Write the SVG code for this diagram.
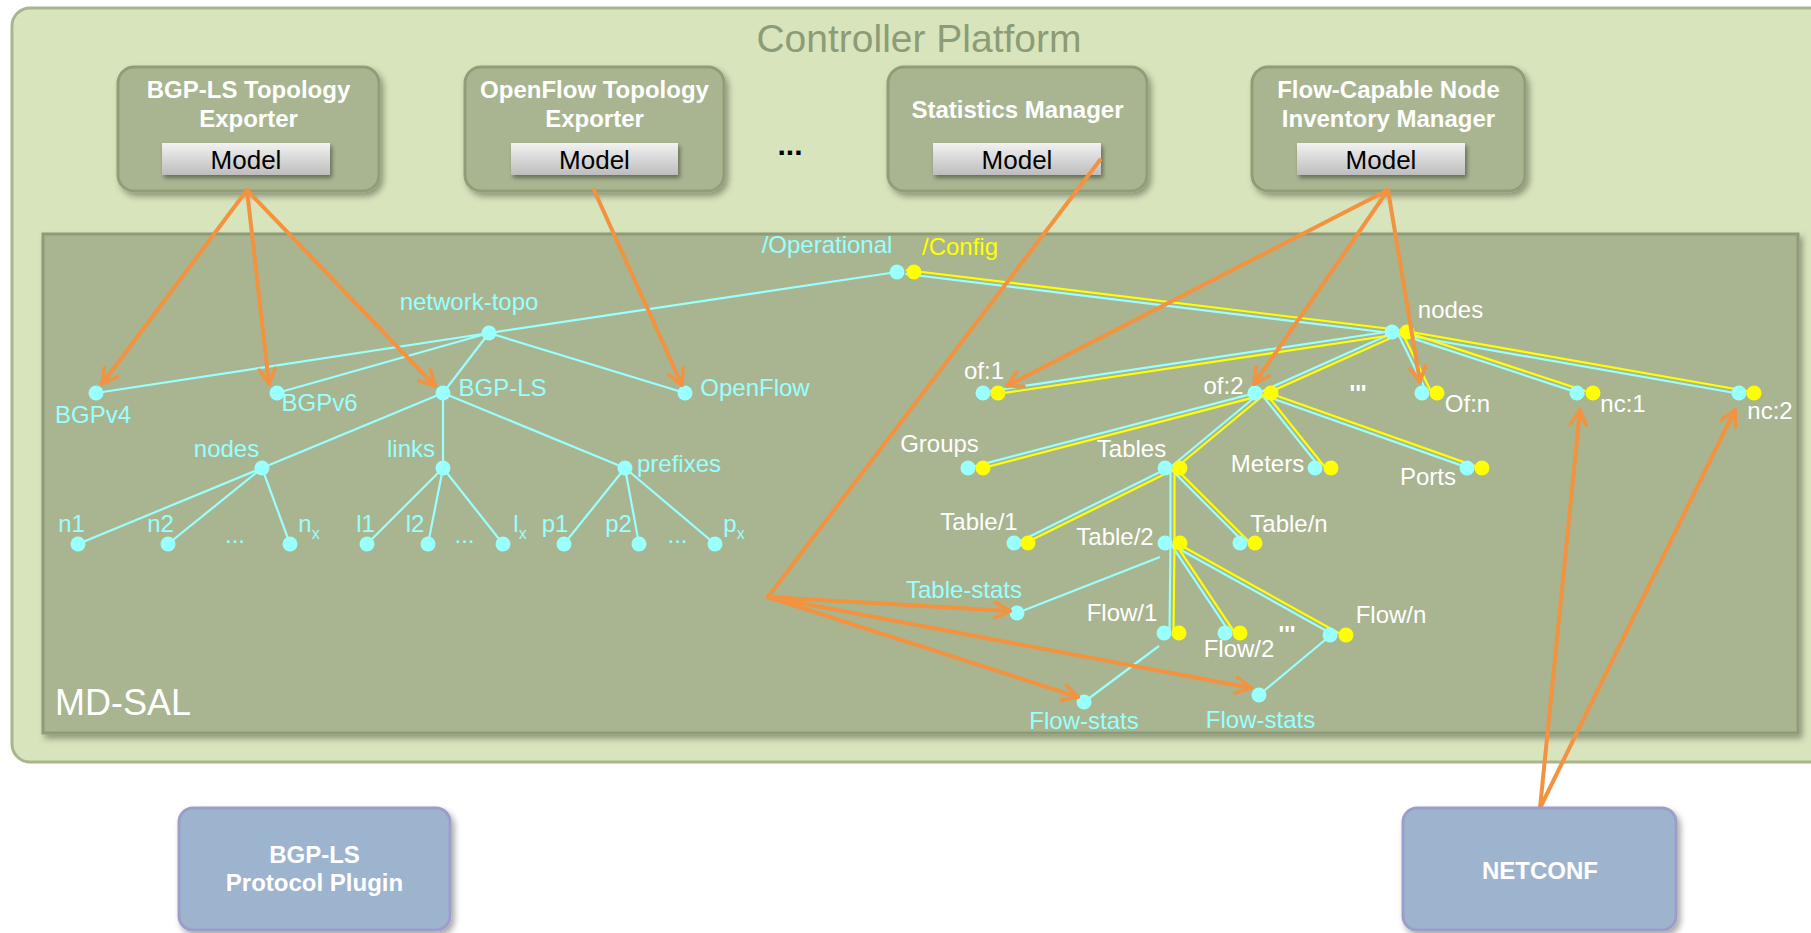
<svg xmlns="http://www.w3.org/2000/svg" width="1811" height="933" viewBox="0 0 1811 933">
<defs>
<style>
.f{font-family:"Liberation Sans",Arial,sans-serif}
.box{fill:#a9b590;stroke:#909e78;stroke-width:3;filter:url(#sh)}
.ttl{font-family:"Liberation Sans",Arial,sans-serif;font-weight:bold;font-size:24px;fill:#fff;text-anchor:middle}
.mdl{fill:url(#gm);filter:url(#sh2)}
.mt{font-family:"Liberation Sans",Arial,sans-serif;font-size:26px;fill:#000;text-anchor:middle}
.c{fill:#99ffff}
.y{fill:#ffff00}
.lc{stroke:#99ffff;stroke-width:2.2;fill:none}
.ly{stroke:#ffff00;stroke-width:2.2;fill:none}
.lbl{font-family:"Liberation Sans",Arial,sans-serif;font-size:24px;text-anchor:middle}
.tc{fill:#99ffff}
.tw{fill:#ffffff}
.ty{fill:#ffff00}
.ar{stroke:#f3923f;stroke-width:4;fill:none;stroke-linecap:round}
.ah{marker-end:url(#ah)}
.blue{fill:#9db4cf;stroke:#9a9ec9;stroke-width:3;filter:url(#sh)}
</style>
<filter id="sh" x="-10%" y="-10%" width="130%" height="140%">
<feDropShadow dx="3" dy="4" stdDeviation="3" flood-color="#000" flood-opacity="0.35"/>
</filter>
<filter id="sh2" x="-10%" y="-20%" width="130%" height="160%">
<feDropShadow dx="2" dy="3" stdDeviation="2" flood-color="#000" flood-opacity="0.4"/>
</filter>
<linearGradient id="gm" x1="0" y1="0" x2="0" y2="1">
<stop offset="0" stop-color="#f2f2f2"/>
<stop offset="1" stop-color="#bdbdbd"/>
</linearGradient>
<marker id="ah" viewBox="0 0 20 20" refX="18" refY="10" markerWidth="5" markerHeight="5" orient="auto" markerUnits="strokeWidth">
<path d="M3,2 L18,10 L3,18" fill="none" stroke="#f3923f" stroke-width="3.5" stroke-linecap="round" stroke-linejoin="round"/>
</marker>
</defs>

<g id="controller-platform">
<rect x="12" y="8" width="1830" height="754" rx="18" fill="#d8e4bc" stroke="#a7b68e" stroke-width="3"/>
<text class="f" x="919" y="52" font-size="39" fill="#8c9c76" text-anchor="middle">Controller Platform</text>
</g>

<g id="md-sal">
<rect x="43" y="234" width="1755" height="499" fill="#a9b590" stroke="#8e9b78" stroke-width="3" filter="url(#sh)"/>
<text class="f" x="55" y="715" font-size="36" fill="#ffffff">MD-SAL</text>
</g>

<g id="bgpls-exporter">
<rect class="box" x="118" y="67" width="261" height="124" rx="16"/>
<text class="ttl" x="248.5" y="98">BGP-LS Topology</text>
<text class="ttl" x="248.5" y="127">Exporter</text>
<rect class="mdl" x="162" y="143" width="168" height="32"/>
<text class="mt" x="246" y="169">Model</text>
</g>

<g id="openflow-exporter">
<rect class="box" x="465" y="67" width="259" height="124" rx="16"/>
<text class="ttl" x="594.5" y="98">OpenFlow Topology</text>
<text class="ttl" x="594.5" y="127">Exporter</text>
<rect class="mdl" x="511" y="143" width="167" height="32"/>
<text class="mt" x="594.5" y="169">Model</text>
</g>

<g id="ellipsis">
<text class="f" x="790" y="155" font-size="30" font-weight="bold" fill="#000" text-anchor="middle">...</text>
</g>

<g id="statistics-manager">
<rect class="box" x="888" y="67" width="259" height="124" rx="16"/>
<text class="ttl" x="1017.5" y="118">Statistics Manager</text>
<rect class="mdl" x="933" y="143" width="168" height="32"/>
<text class="mt" x="1017" y="169">Model</text>
</g>

<g id="inventory-manager">
<rect class="box" x="1252" y="67" width="273" height="124" rx="16"/>
<text class="ttl" x="1388.5" y="98">Flow-Capable Node</text>
<text class="ttl" x="1388.5" y="127">Inventory Manager</text>
<rect class="mdl" x="1297" y="143" width="168" height="32"/>
<text class="mt" x="1381" y="169">Model</text>
</g>

<g id="tree-connectors">
<path class="lc" d="M897,272 L489,333 M489,333 L96,393 M489,333 L277,393 M489,333 L443,393 M489,333 L685,393 M443,393 L262,468 M443,393 L443,468 M443,393 L625,468 M262,468 L78,544 M262,468 L168,544 M262,468 L290,544 M443,468 L367,544 M443,468 L428,544 M443,468 L503,544 M625,468 L564,544 M625,468 L639,544 M625,468 L715,544"/>
<path class="lc" d="M905.3,274 L1399.3,334 M1399.2,330 L990.2,391 M1398.7,330.2 L1262.2,391.2 M1397.7,332.9 L1427.7,393.9 M1398.9,333.9 L1584.4,394.9 M1399.2,334 L1746.2,395 M1262.5,391.1 L975,466.1 M1261.7,391.5 L1171.2,466.5 M1261.4,394.3 L1321.4,469.3 M1262.3,394.9 L1473.8,469.9 M1171.6,466.2 L1020.1,541.2 M1170.5,468 L1170.5,543 M1171.1,469.4 L1246.1,544.4 M1170.5,543 L1169.5,633 M1170.8,544.1 L1230.8,634.1 M1171.5,544.7 L1337,636.7"/>
<path class="ly" d="M905.7,270 L1399.7,330 M1399.8,334 L990.8,395 M1400.3,333.8 L1263.8,394.8 M1401.3,331.1 L1431.3,392.1 M1400.1,330.1 L1585.6,391.1 M1399.9,330 L1746.9,391 M1263.5,394.9 L976,469.9 M1264.3,394.5 L1173.8,469.5 M1264.6,391.8 L1324.6,466.8 M1263.7,391.1 L1475.2,466.1 M1173.4,469.8 L1021.9,544.8 M1174.5,468 L1174.5,543 M1173.9,466.6 L1248.9,541.6 M1174.5,543 L1173.5,633 M1174.2,541.9 L1234.2,631.9 M1173.5,541.3 L1339,633.3"/>
<path class="lc" d="M1160,557 L1017,613 M1159,646 L1084,702 M1325,640 L1259,695"/>
</g>

<g id="tree-nodes">
<g id="operational"><circle class="c" cx="897" cy="272" r="7.5"/><circle class="y" cx="914" cy="272" r="7.5"/></g>
<g id="network-topo"><circle class="c" cx="489" cy="333" r="7.5"/></g>
<g id="bgpv4"><circle class="c" cx="96" cy="393" r="7.5"/></g>
<g id="bgpv6"><circle class="c" cx="277" cy="393" r="7.5"/></g>
<g id="bgp-ls"><circle class="c" cx="443" cy="393" r="7.5"/></g>
<g id="openflow"><circle class="c" cx="685" cy="393" r="7.5"/></g>
<g id="nodes-left"><circle class="c" cx="262" cy="468" r="7.5"/></g>
<g id="links"><circle class="c" cx="443" cy="468" r="7.5"/></g>
<g id="prefixes"><circle class="c" cx="625" cy="468" r="7.5"/></g>
<g id="leaves-left">
<circle class="c" cx="78" cy="544" r="7.5"/><circle class="c" cx="168" cy="544" r="7.5"/><circle class="c" cx="290" cy="544" r="7.5"/>
<circle class="c" cx="367" cy="544" r="7.5"/><circle class="c" cx="428" cy="544" r="7.5"/><circle class="c" cx="503" cy="544" r="7.5"/>
<circle class="c" cx="564" cy="544" r="7.5"/><circle class="c" cx="639" cy="544" r="7.5"/><circle class="c" cx="715" cy="544" r="7.5"/>
</g>
<g id="nodes-right"><circle class="c" cx="1392" cy="332" r="7.5"/><circle class="y" cx="1407" cy="332" r="7.5"/></g>
<g id="of1"><circle class="c" cx="983" cy="393" r="7.5"/><circle class="y" cx="998" cy="393" r="7.5"/></g>
<g id="of2"><circle class="c" cx="1255" cy="393" r="7.5"/><circle class="y" cx="1271" cy="393" r="7.5"/></g>
<g id="ofn"><circle class="c" cx="1422" cy="393" r="7.5"/><circle class="y" cx="1437" cy="393" r="7.5"/></g>
<g id="nc1"><circle class="c" cx="1577" cy="393" r="7.5"/><circle class="y" cx="1593" cy="393" r="7.5"/></g>
<g id="nc2"><circle class="c" cx="1739" cy="393" r="7.5"/><circle class="y" cx="1754" cy="393" r="7.5"/></g>
<g id="groups"><circle class="c" cx="968" cy="468" r="7.5"/><circle class="y" cx="983" cy="468" r="7.5"/></g>
<g id="tables"><circle class="c" cx="1165" cy="468" r="7.5"/><circle class="y" cx="1180" cy="468" r="7.5"/></g>
<g id="meters"><circle class="c" cx="1315" cy="468" r="7.5"/><circle class="y" cx="1331" cy="468" r="7.5"/></g>
<g id="ports"><circle class="c" cx="1467" cy="468" r="7.5"/><circle class="y" cx="1482" cy="468" r="7.5"/></g>
<g id="table1"><circle class="c" cx="1014" cy="543" r="7.5"/><circle class="y" cx="1028" cy="543" r="7.5"/></g>
<g id="table2"><circle class="c" cx="1165" cy="543" r="7.5"/><circle class="y" cx="1180" cy="543" r="7.5"/></g>
<g id="tablen"><circle class="c" cx="1240" cy="543" r="7.5"/><circle class="y" cx="1255" cy="543" r="7.5"/></g>
<g id="table-stats"><circle class="c" cx="1017" cy="613" r="7.5"/></g>
<g id="flow1"><circle class="c" cx="1164" cy="633" r="7.5"/><circle class="y" cx="1179" cy="633" r="7.5"/></g>
<g id="flow2"><circle class="c" cx="1225" cy="633" r="7.5"/><circle class="y" cx="1240" cy="633" r="7.5"/></g>
<g id="flown"><circle class="c" cx="1330" cy="635" r="7.5"/><circle class="y" cx="1346" cy="635" r="7.5"/></g>
<g id="flow-stats1"><circle class="c" cx="1084" cy="702" r="7.5"/></g>
<g id="flow-stats2"><circle class="c" cx="1259" cy="695" r="7.5"/></g>
</g>

<g id="tree-labels" class="lbl">
<text class="tc" x="827" y="253">/Operational</text>
<text class="ty" x="960" y="255">/Config</text>
<text class="tc" x="469" y="310">network-topo</text>
<text class="tc" x="93" y="423">BGPv4</text>
<text class="tc" x="319.5" y="411">BGPv6</text>
<text class="tc" x="502.5" y="396">BGP-LS</text>
<text class="tc" x="755" y="396">OpenFlow</text>
<text class="tc" x="226.5" y="457">nodes</text>
<text class="tc" x="411" y="457">links</text>
<text class="tc" x="679" y="472">prefixes</text>
<text class="tc" x="71.5" y="532">n1</text>
<text class="tc" x="160.5" y="532">n2</text>
<text class="tc" x="235" y="543">...</text>
<text class="tc" x="309" y="532">n<tspan font-size="16" dy="7">x</tspan></text>
<text class="tc" x="365.5" y="532">l1</text>
<text class="tc" x="415" y="532">l2</text>
<text class="tc" x="464.5" y="543">...</text>
<text class="tc" x="520" y="532">l<tspan font-size="16" dy="7">x</tspan></text>
<text class="tc" x="555" y="532">p1</text>
<text class="tc" x="618.5" y="532">p2</text>
<text class="tc" x="677.5" y="543">...</text>
<text class="tc" x="734" y="532">p<tspan font-size="16" dy="7">x</tspan></text>
<text class="tw" x="1450.5" y="318">nodes</text>
<text class="tw" x="984" y="379">of:1</text>
<text class="tw" x="1223.5" y="394">of:2</text>
<text class="tw" x="1358" y="402" font-weight="bold" fill="#ccffff">'''</text>
<text class="tw" x="1467.5" y="412">Of:n</text>
<text class="tw" x="1623" y="412">nc:1</text>
<text class="tw" x="1770" y="419">nc:2</text>
<text class="tw" x="939.5" y="452">Groups</text>
<text class="tw" x="1131.5" y="457">Tables</text>
<text class="tw" x="1267.5" y="472">Meters</text>
<text class="tw" x="1428" y="485">Ports</text>
<text class="tw" x="979" y="530">Table/1</text>
<text class="tw" x="1115" y="545">Table/2</text>
<text class="tw" x="1289" y="532">Table/n</text>
<text class="tc" x="964" y="598">Table-stats</text>
<text class="tw" x="1122" y="621">Flow/1</text>
<text class="tw" x="1239" y="657">Flow/2</text>
<text class="tw" x="1287" y="643" font-weight="bold" fill="#ccffff">'''</text>
<text class="tw" x="1391" y="623">Flow/n</text>
<text class="tc" x="1084" y="729">Flow-stats</text>
<text class="tc" x="1260.5" y="728">Flow-stats</text>
</g>

<g id="connectors">
<path class="ar ah" d="M247,190 L102,384"/>
<path class="ar ah" d="M247,190 L269,384"/>
<path class="ar ah" d="M247,190 L435,386"/>
<path class="ar ah" d="M594,190 L682,385"/>
<path class="ar" d="M1100,160 L768,597"/>
<path class="ar ah" d="M768,597 L1010,611"/>
<path class="ar ah" d="M768,597 L1078,697"/>
<path class="ar ah" d="M768,597 L1251,688"/>
<path class="ar ah" d="M1388,190 L1007,386"/>
<path class="ar ah" d="M1388,190 L1254,384"/>
<path class="ar ah" d="M1388,190 L1420,382"/>
<path class="ar ah" d="M1540,808 L1580,410"/>
<path class="ar ah" d="M1540,808 L1735,410"/>
</g>

<g id="bgpls-plugin">
<rect class="blue" x="179" y="808" width="271" height="122" rx="14"/>
<text class="ttl" x="314.5" y="863">BGP-LS</text>
<text class="ttl" x="314.5" y="891">Protocol Plugin</text>
</g>

<g id="netconf">
<rect class="blue" x="1403" y="808" width="273" height="122" rx="14"/>
<text class="ttl" x="1540" y="879">NETCONF</text>
</g>
</svg>
